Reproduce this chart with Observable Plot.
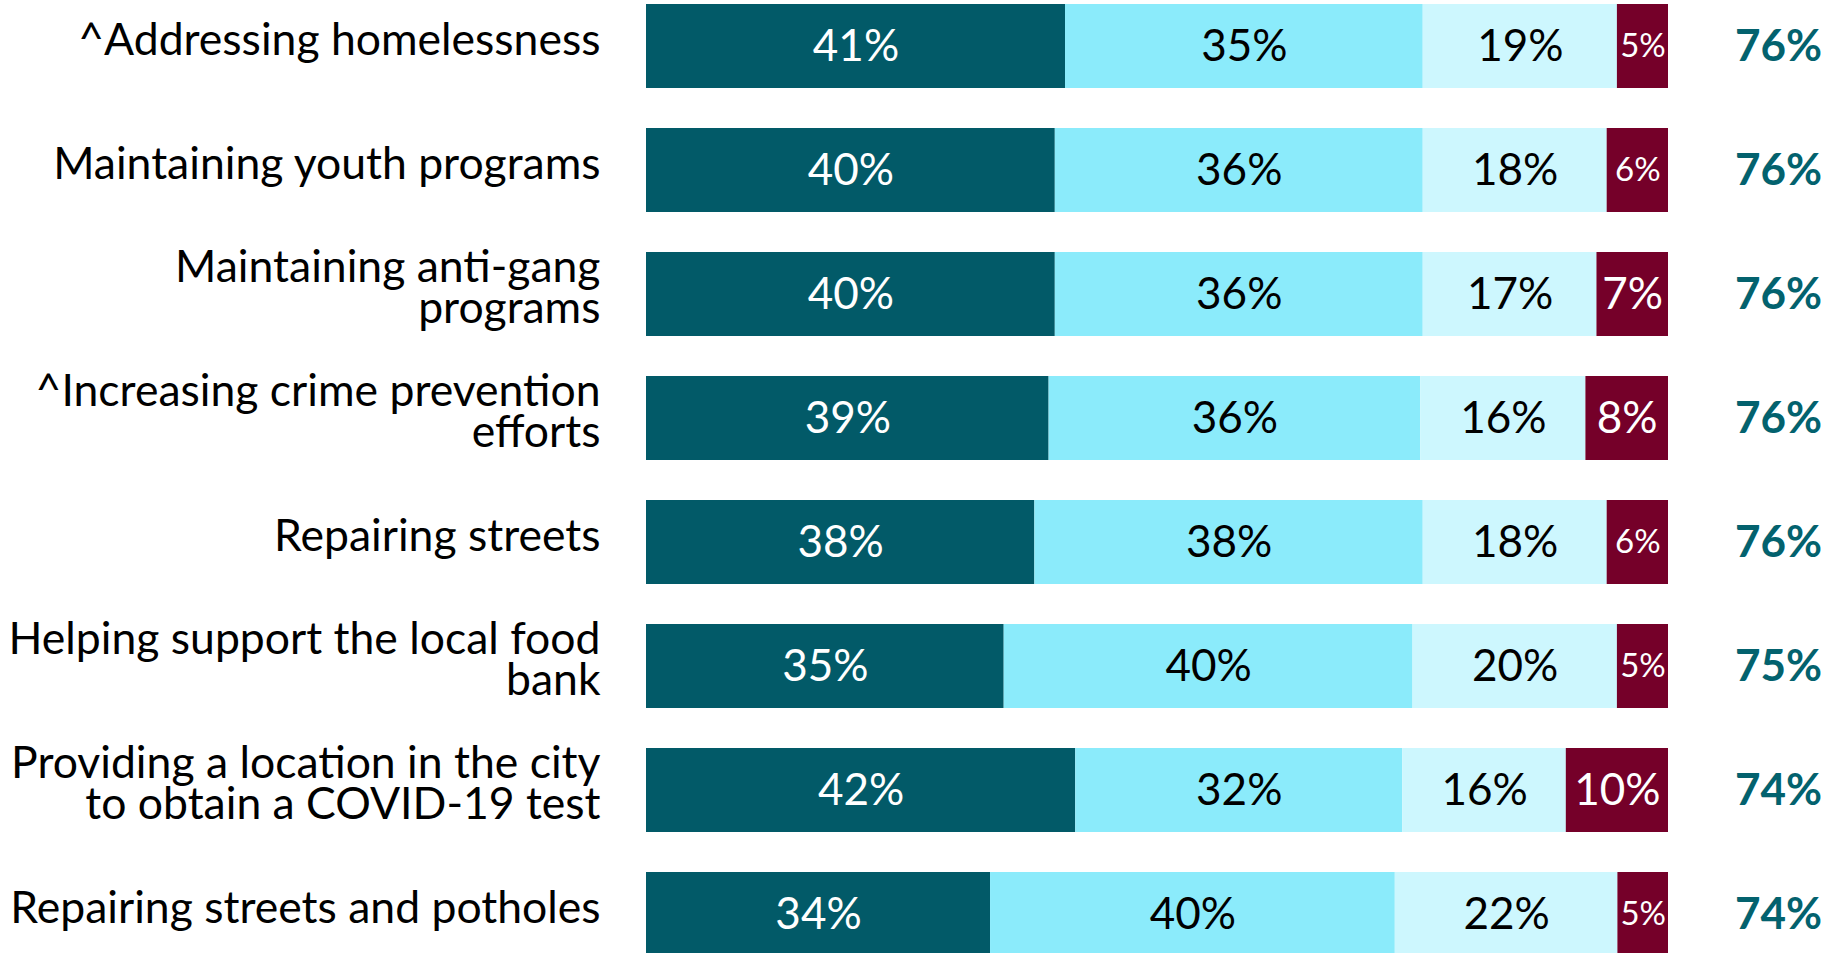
<!DOCTYPE html>
<html>
<head>
<meta charset="utf-8">
<script src="https://cdn.jsdelivr.net/npm/d3@7"></script>
<script src="https://cdn.jsdelivr.net/npm/@observablehq/plot@0.6"></script>
<style>
  html, body { margin: 0; padding: 0; background: #fff; overflow: hidden; }
  #chart svg { display: block; }
</style>
</head>
<body>
<div id="chart"></div>
<script>
const categories = [
  "^Addressing homelessness",
  "Maintaining youth programs",
  "Maintaining anti-gang\nprograms",
  "^Increasing crime prevention\nefforts",
  "Repairing streets",
  "Helping support the local food\nbank",
  "Providing a location in the city\nto obtain a COVID-19 test",
  "Repairing streets and potholes"
];
const series = ["Extremely important", "Very important", "Somewhat important", "Not important"];
const extremely = [41, 40, 40, 39, 38, 35, 42, 34];
const very      = [35, 36, 36, 36, 38, 40, 32, 40];
const somewhat  = [19, 18, 17, 16, 18, 20, 16, 22];
const notImp    = [5, 6, 7, 8, 6, 5, 10, 5];
const totals    = [76, 76, 76, 76, 76, 75, 74, 74];
const colors = ["#025a68", "#8bebfb", "#cdf7fe", "#750029"];

const values = [extremely, very, somewhat, notImp];
const rows = categories.flatMap((c, i) =>
  series.map((s, j) => ({category: c, series: s, si: j, value: values[j][i]}))
);
const totalRows = categories.map((c, i) => ({category: c, total: totals[i]}));

const font = "Lato, 'Open Sans', sans-serif";
const stackOpts = (extra) => Plot.stackX({offset: "normalize", x: "value", y: "category", ...extra});

const chart = Plot.plot({
  width: 1839,
  height: 953,
  margin: 0,
  style: {fontFamily: font, background: "#fff", overflow: "visible"},
  x: {domain: [0, 1], range: [646, 1668], axis: null},
  y: {domain: categories, range: [3, 957.1], paddingInner: 0.324, paddingOuter: 0, axis: null},
  color: {domain: series, range: colors},
  marks: [
    Plot.barX(rows, stackOpts({fill: "series"})),
    Plot.text(rows, Plot.filter(d => d.si === 0 || (d.si === 3 && d.value > 6),
      stackOpts({text: d => d.value + "%", fill: "white", fontSize: 44, fontFamily: font}))),
    Plot.text(rows, Plot.filter(d => d.si === 3 && d.value <= 6,
      stackOpts({text: d => d.value + "%", fill: "white", fontSize: 33, fontFamily: font}))),
    Plot.text(rows, Plot.filter(d => d.si === 1 || d.si === 2,
      stackOpts({text: d => d.value + "%", fill: "black", fontSize: 44, fontFamily: font}))),
    Plot.text(categories, {
      y: d => d, x: 0, dx: -46, dy: -5, text: d => d,
      textAnchor: "end", lineHeight: 0.93, fontSize: 44.5, fill: "black", fontFamily: font
    }),
    Plot.text(totalRows, {
      y: "category", x: 1, dx: 110, text: d => d.total + "%",
      textAnchor: "middle", fontSize: 44, fontWeight: "bold", fill: "#03626e", fontFamily: font
    })
  ]
});
document.getElementById("chart").append(chart);
</script>
</body>
</html>
